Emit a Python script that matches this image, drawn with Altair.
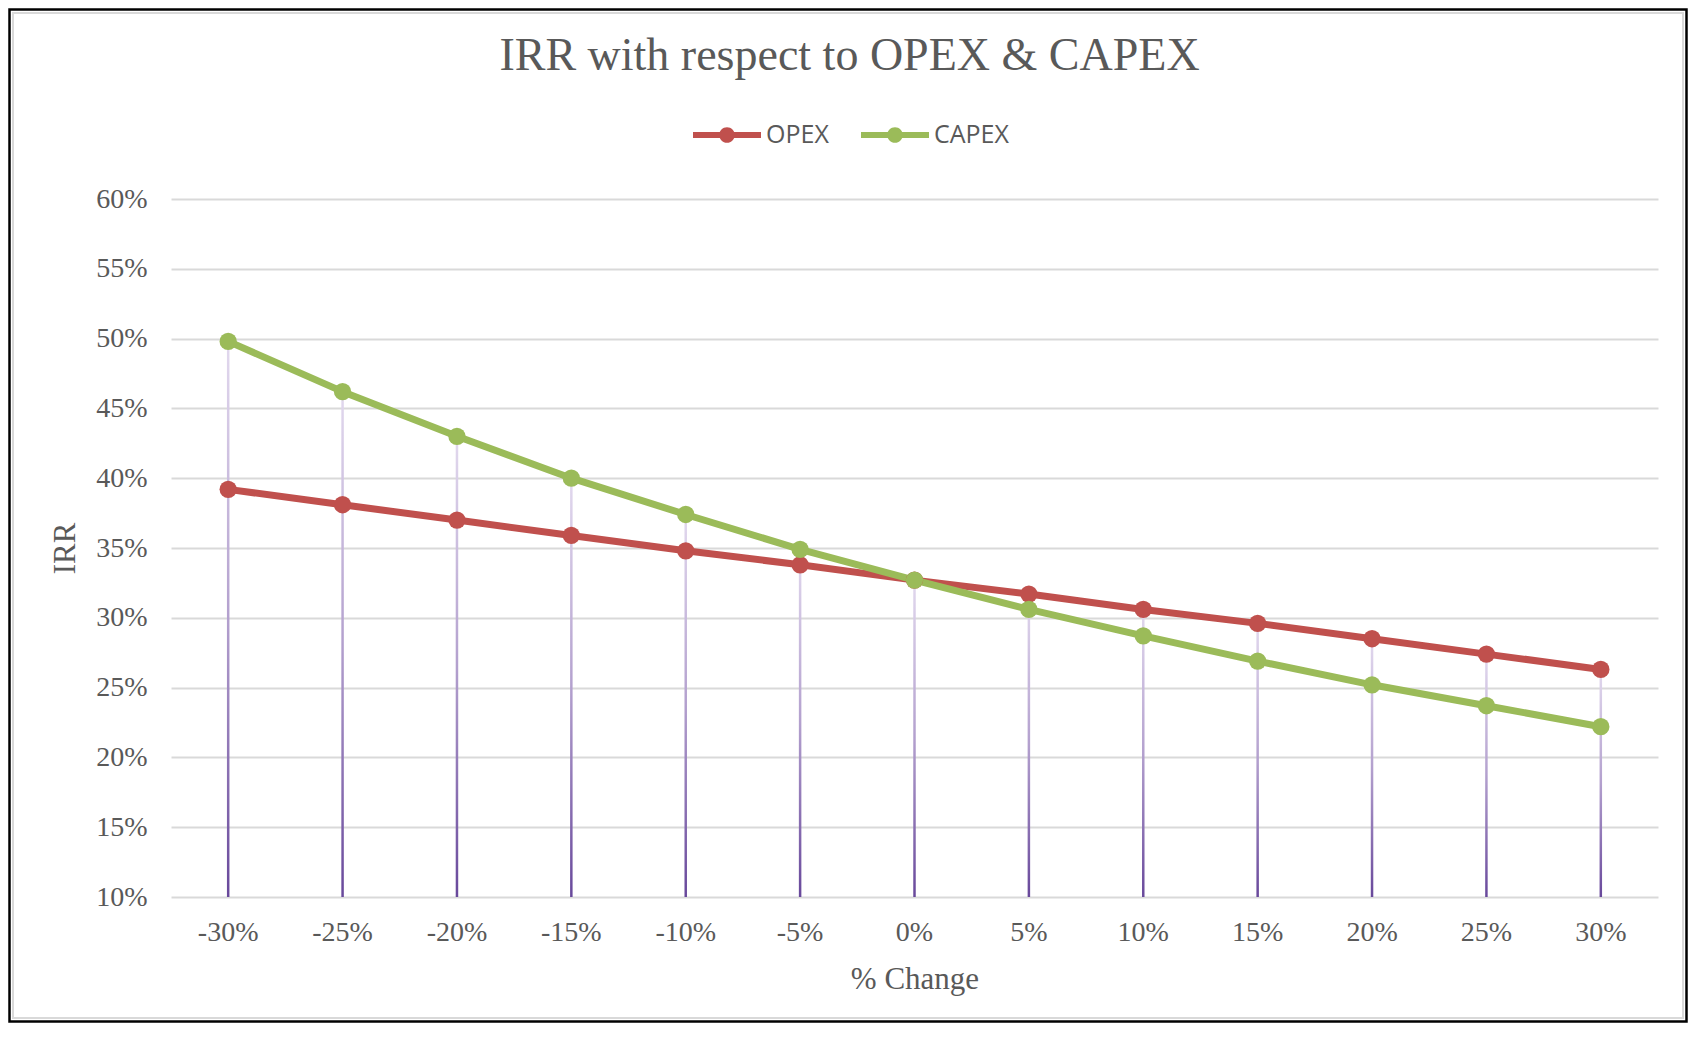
import altair as alt
import pandas as pd

changes = ["-30%", "-25%", "-20%", "-15%", "-10%", "-5%", "0%",
           "5%", "10%", "15%", "20%", "25%", "30%"]
opex = [0.392, 0.381, 0.370, 0.359, 0.348, 0.338, 0.327,
        0.317, 0.306, 0.296, 0.285, 0.274, 0.263]
capex = [0.498, 0.462, 0.430, 0.400, 0.374, 0.349, 0.327,
         0.306, 0.287, 0.269, 0.252, 0.237, 0.222]
series_names = ["OPEX", "CAPEX"]
series_colors = ["#C0504D", "#9BBB59"]
y_ticks = [0.10, 0.15, 0.20, 0.25, 0.30, 0.35, 0.40, 0.45, 0.50, 0.55, 0.60]

rows = []
for c, o, k in zip(changes, opex, capex):
    rows.append({"change": c, "series": "OPEX", "irr": o})
    rows.append({"change": c, "series": "CAPEX", "irr": k})
long_df = pd.DataFrame(rows)
drop_df = pd.DataFrame({"change": changes,
                        "irr": [max(o, k) for o, k in zip(opex, capex)],
                        "base": [y_ticks[0]] * len(changes)})

GRAY = "#595959"
SERIF = "Liberation Serif"

x_enc = alt.X("change:N", sort=changes,
              scale=alt.Scale(type="band", paddingInner=0, paddingOuter=0),
              axis=alt.Axis(title="% Change", labelAngle=0, ticks=False, domain=False,
                            grid=False, labelPadding=21, titlePadding=18,
                            labelFont=SERIF, labelFontSize=28, labelColor=GRAY,
                            titleFont=SERIF, titleFontSize=31, titleFontWeight="normal",
                            titleColor=GRAY))
y_scale = alt.Scale(domain=[0.10, 0.60], nice=False, zero=False)
y_enc = alt.Y("irr:Q", scale=y_scale,
              axis=alt.Axis(title="IRR", format=".0%", values=y_ticks, ticks=False,
                            domain=False, gridColor="#D9D9D9", gridWidth=2,
                            labelPadding=24, titlePadding=14,
                            labelFont=SERIF, labelFontSize=28, labelColor=GRAY,
                            titleFont=SERIF, titleFontSize=31, titleFontWeight="normal",
                            titleColor=GRAY))

color_scale = alt.Scale(domain=series_names, range=series_colors)

legend_path = ("M-1,-0.09 L-0.2,-0.09 L-0.2,0.09 L-1,0.09 Z "
               "M0.2,-0.09 L1,-0.09 L1,0.09 L0.2,0.09 Z "
               "M-0.23,0 A0.23,0.23 0 1,1 0.23,0 A0.23,0.23 0 1,1 -0.23,0 Z")
legend = alt.Legend(title=None, orient="none", legendX=522, legendY=-98,
                    direction="horizontal", symbolType=legend_path,
                    symbolSize=4624, symbolStrokeWidth=0, symbolOpacity=1,
                    labelFont="Open Sans", labelFontSize=25,
                    labelColor=GRAY, labelOffset=5, columnPadding=32)

gradient = alt.Gradient(gradient="linear",
                        stops=[alt.GradientStop(color="#E2D9EE", offset=0),
                               alt.GradientStop(color="#B3A0CE", offset=0.5),
                               alt.GradientStop(color="#68489B", offset=1)],
                        x1=0, x2=0, y1=0, y2=1)

frame_df = pd.DataFrame({"a": [0]})
frame_outer = alt.Chart(frame_df).mark_rect(filled=False, stroke="#000000", strokeWidth=2.5).encode(
    x=alt.value(-161.5), x2=alt.value(1515.5), y=alt.value(-189.5), y2=alt.value(822.5))
frame_inner = alt.Chart(frame_df).mark_rect(filled=False, stroke="#D9D9D9", strokeWidth=2).encode(
    x=alt.value(-158), x2=alt.value(1512), y=alt.value(-186), y2=alt.value(819))

drops = alt.Chart(drop_df).mark_bar(size=2.5, color=gradient).encode(
    x=x_enc, y=y_enc, y2="base:Q")

lines = alt.Chart(long_df).mark_line(strokeWidth=7, strokeJoin="round").encode(
    x=x_enc, y=y_enc,
    color=alt.Color("series:N", scale=color_scale, legend=legend))

points = alt.Chart(long_df).mark_point(filled=True, size=300, opacity=1).encode(
    x=x_enc, y=y_enc,
    color=alt.Color("series:N", scale=color_scale, legend=legend))

chart = alt.layer(frame_outer, frame_inner, drops, lines, points).properties(
    width=1487, height=698,
    autosize="none",
    padding={"left": 163, "top": 191, "right": 30, "bottom": 126},
    title=alt.Title("IRR with respect to OPEX & CAPEX", font=SERIF, fontSize=46,
                    fontWeight="normal", color=GRAY, anchor="middle", dx=-65, offset=-72),
    background="white",
).configure_view(stroke=None)

chart.save("out.html", embed_options={"renderer": "svg", "actions": False})
